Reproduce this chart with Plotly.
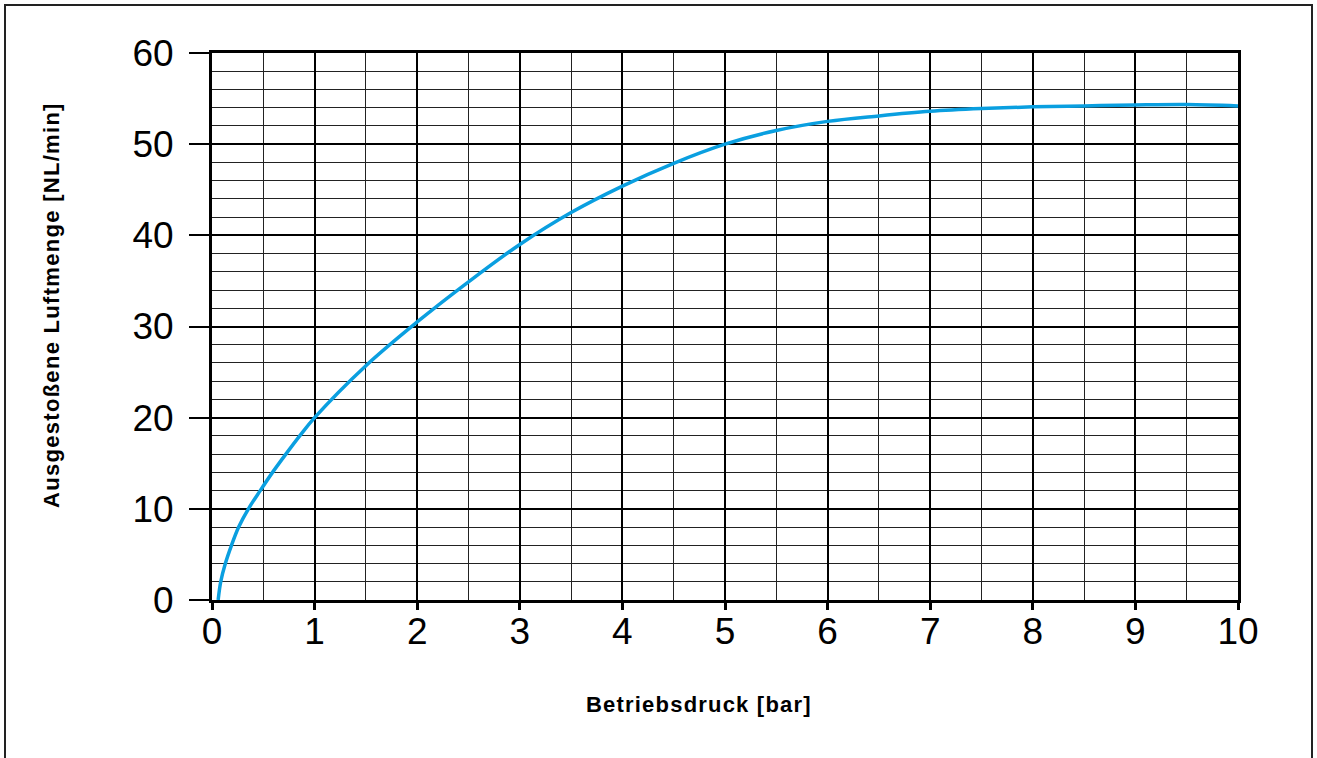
import plotly.graph_objects as go

# Data
pressure_bar = [0.06, 0.085, 0.13, 0.19, 0.26, 0.355, 0.47, 0.59, 0.72, 0.855, 1.0,
                1.5, 2.0, 2.5, 3.0, 3.5, 4.0, 4.5, 5.0, 5.5, 6.0,
                6.5, 7.0, 7.5, 8.0, 8.5, 9.0, 9.5, 10.0]
air_flow_nlmin = [0.0, 2.0, 4.0, 6.0, 8.0, 10.0, 12.0, 14.0, 16.0, 18.0, 20.0,
                  25.7, 30.5, 34.9, 39.0, 42.5, 45.4, 47.9, 50.0, 51.5, 52.5,
                  53.1, 53.6, 53.9, 54.1, 54.2, 54.3, 54.35, 54.2]

x_ticks = list(range(0, 11))
y_ticks = list(range(0, 61, 10))

x_title = "Betriebsdruck [bar]"
y_title = "Ausgestoßene Luftmenge [NL/min]"

W, H = 1317, 758
L, R, T, B = 212, 79, 53, 158
pw, ph = W - L - R, H - T - B

fig = go.Figure()
fig.add_trace(go.Scatter(
    x=pressure_bar, y=air_flow_nlmin, mode="lines",
    line=dict(color="#0a9fe0", width=3.5, shape="spline", smoothing=1.0),
    hoverinfo="skip", showlegend=False, cliponaxis=True,
))

font_family = "Liberation Sans, Arial, Helvetica, sans-serif"

fig.update_layout(
    width=W, height=H,
    margin=dict(l=L, r=R, t=T, b=B, pad=0),
    paper_bgcolor="white", plot_bgcolor="white",
    font=dict(family=font_family, color="black"),
    xaxis=dict(
        range=[0, 10], tickvals=x_ticks, ticktext=[str(v) for v in x_ticks],
        showgrid=True, gridcolor="black", gridwidth=1.5,
        minor=dict(dtick=0.5, showgrid=True, gridcolor="#222", gridwidth=1),
        showline=True, linecolor="black", linewidth=3, mirror=True,
        ticks="outside", ticklen=7, tickwidth=3, tickcolor="black",
        ticklabelstandoff=-10,
        tickfont=dict(size=37, family=font_family, color="black"),
        zeroline=False, fixedrange=True,
    ),
    yaxis=dict(
        range=[0, 60], tickvals=y_ticks, ticktext=[str(v) for v in y_ticks],
        showgrid=True, gridcolor="black", gridwidth=1.5,
        minor=dict(dtick=2, showgrid=True, gridcolor="#222", gridwidth=1),
        showline=True, linecolor="black", linewidth=3, mirror=True,
        ticks="outside", ticklen=20, tickwidth=2, tickcolor="black",
        ticklabelstandoff=8,
        tickfont=dict(size=37, family=font_family, color="black"),
        zeroline=False, fixedrange=True,
    ),
)

def px_to_paper_x(px):
    return (px - L) / pw

def px_to_paper_y(py):
    return (H - B - py) / ph

fig.add_annotation(
    x=px_to_paper_x(699), y=px_to_paper_y(704), xref="paper", yref="paper",
    text="<b><span style='letter-spacing:1.2px'>" + x_title + "</span></b>",
    showarrow=False,
    font=dict(size=22, family=font_family, color="black"),
    xanchor="center", yanchor="middle",
)
fig.add_annotation(
    x=px_to_paper_x(51), y=px_to_paper_y(305), xref="paper", yref="paper",
    text="<b><span style='letter-spacing:1.3px'>" + y_title + "</span></b>",
    showarrow=False, textangle=-90,
    font=dict(size=22, family=font_family, color="black"),
    xanchor="center", yanchor="middle",
)

# Outer frame
fig.add_shape(
    type="rect", xref="paper", yref="paper",
    x0=px_to_paper_x(5), x1=px_to_paper_x(1312),
    y0=px_to_paper_y(800), y1=px_to_paper_y(5),
    line=dict(color="#222", width=2), fillcolor="rgba(0,0,0,0)",
    layer="above",
)

fig.write_html(
    "out.html",
    config={"displayModeBar": False},
    post_script="document.body.style.margin='0';document.body.style.overflow='hidden';",
)
